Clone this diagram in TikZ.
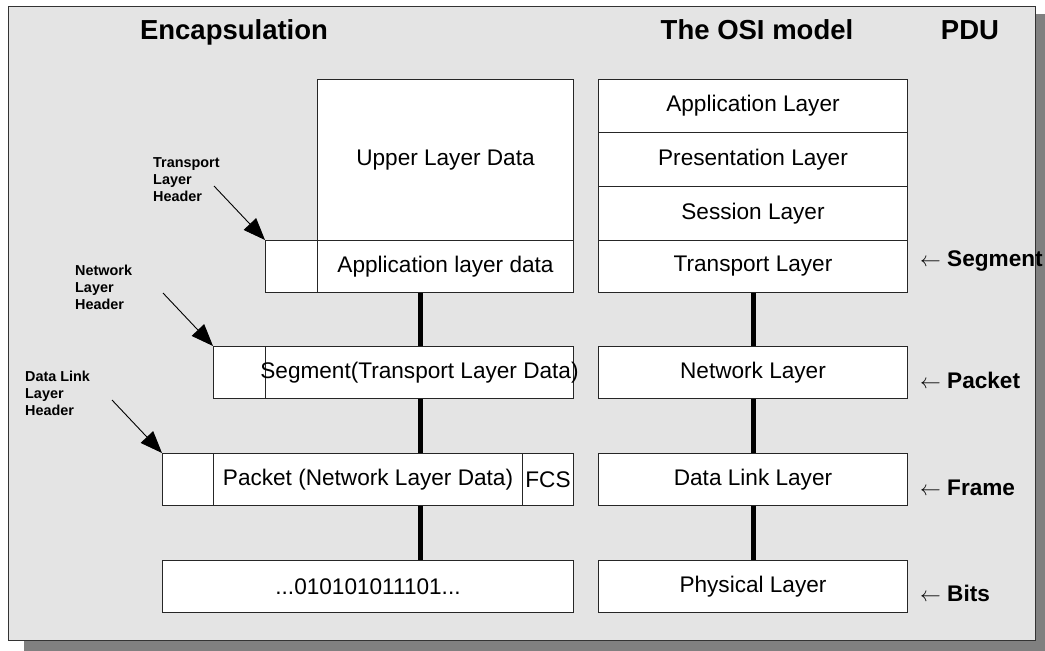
\documentclass[tikz,border=0pt]{standalone}
\usepackage{fontspec}
\setmainfont{Liberation Sans}
\usetikzlibrary{arrows.meta}

\begin{document}
\begin{tikzpicture}[x=1pt, y=-1pt,
  cell/.style={draw=black!85, fill=white, line width=1pt, inner sep=0pt,
    anchor=north west, font=\fontsize{22.6}{27}\selectfont},
  title/.style={anchor=base, font=\fontsize{27.5}{32}\selectfont\bfseries},
  hdrlabel/.style={anchor=base west, align=left, inner sep=0pt,
    font=\fontsize{14.4}{17}\selectfont\bfseries},
  pdulabel/.style={anchor=base west, inner sep=0pt,
    font=\fontsize{22.6}{27}\selectfont\bfseries},
  link/.style={line width=5pt, black},
  pointer/.style={line width=0.9pt, -{Triangle[length=22pt, width=17pt]}}
]
% canvas and frame
\useasboundingbox (0,0) rectangle (1045,651);
\fill[black!50] (24,14) rectangle (1045,651);
\filldraw[fill=black!10.5, draw=black!80, line width=1pt] (8.5,6) rectangle (1035,640);

% column headings
\node[title] (encap) at (234,39) {Encapsulation};
\node[title] (osi) at (757,39) {The OSI model};
\node[title] (pdu) at (970,39) {PDU};

% encapsulation stack
\node[cell, minimum width=256pt, minimum height=161pt] (upper) at (317,79) {Upper Layer Data};
\node[cell, minimum width=52pt, minimum height=52pt] (thdr) at (265,240) {};
\node[cell, minimum width=256pt, minimum height=52pt] (appd) at (317,240) {Application layer data};
\node[cell, minimum width=52pt, minimum height=52pt] (nhdr) at (213,346) {};
% the label is a little wider than its cell and runs over the borders
\node[cell, minimum width=308pt, minimum height=52pt] (segd) at (265,346) {\makebox[0pt]{Segment(Transport Layer Data)}};
\node[cell, minimum width=51pt, minimum height=52pt] (dhdr) at (162,453) {};
\node[cell, minimum width=309pt, minimum height=52pt] (pktd) at (213,453) {Packet (Network Layer Data)};
\node[cell, minimum width=51pt, minimum height=52pt] (fcs) at (522,453) {FCS};
\node[cell, minimum width=411pt, minimum height=52pt] (bits) at (162,560) {...010101011101...};

% OSI layers
\node[cell, minimum width=309pt, minimum height=53pt] (lapp) at (598,79) {Application Layer};
\node[cell, minimum width=309pt, minimum height=54pt] (lpres) at (598,132) {Presentation Layer};
\node[cell, minimum width=309pt, minimum height=54pt] (lsess) at (598,186) {Session Layer};
\node[cell, minimum width=309pt, minimum height=52pt] (ltrans) at (598,240) {Transport Layer};
\node[cell, minimum width=309pt, minimum height=52pt] (lnet) at (598,346) {Network Layer};
\node[cell, minimum width=309pt, minimum height=52pt] (ldl) at (598,453) {Data Link Layer};
\node[cell, minimum width=309pt, minimum height=52pt] (lphy) at (598,560) {Physical Layer};

% vertical links
\coordinate (ex) at (420,0);
\draw[link] (ex |- appd.south) -- (ex |- segd.north);
\draw[link] (ex |- segd.south) -- (ex |- pktd.north);
\draw[link] (ex |- pktd.south) -- (ex |- bits.north);
\draw[link] (ltrans.south) -- (lnet.north);
\draw[link] (lnet.south) -- (ldl.north);
\draw[link] (ldl.south) -- (lphy.north);

% header callouts (anchored at the baseline of the last line)
\node[hdrlabel] (tlh) at (153,201) {Transport\\Layer\\Header};
\node[hdrlabel] (nlh) at (75,309) {Network\\Layer\\Header};
\node[hdrlabel] (dlh) at (25,415) {Data Link\\Layer\\Header};
\coordinate (ta) at (214,186);
\coordinate (na) at (163,293);
\coordinate (da) at (112,400);
\draw[pointer] (ta) -- (thdr.north west);
\draw[pointer] (na) -- (nhdr.north west);
\draw[pointer] (da) -- (dhdr.north west);

% PDU names
\node[pdulabel] (pseg) at (920,266) {$\leftarrow$ Segment};
\node[pdulabel] (ppkt) at (920,388) {$\leftarrow$ Packet};
\node[pdulabel] (pfrm) at (920,495) {$\leftarrow$ Frame};
\node[pdulabel] (pbit) at (920,601) {$\leftarrow$ Bits};
\end{tikzpicture}
\end{document}
